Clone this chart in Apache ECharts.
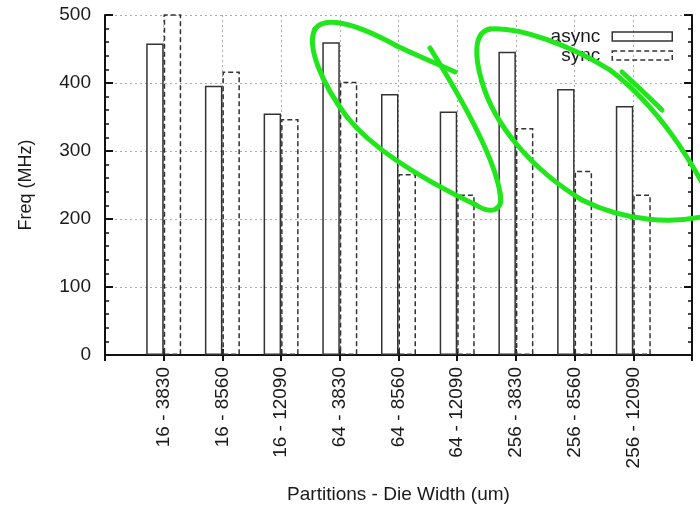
<!DOCTYPE html>
<html>
<head>
<meta charset="utf-8">
<script src="https://cdn.jsdelivr.net/npm/echarts@6/dist/echarts.min.js"></script>
<style>html,body{margin:0;padding:0;background:#fff;}#c{width:700px;height:514px;}</style>
</head>
<body>
<div id="c"></div>
<script>
const categories = ['16 - 3830', '16 - 8560', '16 - 12090', '64 - 3830', '64 - 8560', '64 - 12090', '256 - 3830', '256 - 8560', '256 - 12090'];
const asyncFreq = [458, 396, 355, 460, 384, 358, 446, 391, 366];
const syncFreq = [520, 417, 347, 402, 266, 236, 334, 271, 236];
const yMin = 0, yMax = 500, yStep = 100;

const axisCats = [''].concat(categories, ['']);
const pad = v => ['-'].concat(v, ['-']);
const FONT = '"Liberation Sans", Arial, Helvetica, sans-serif';
const lineCol = '#111';
const barCol = '#333';
const textCol = '#1a1a1a';
const green = '#22e61c';
const dash = [5, 3];

// hand-drawn green annotation strokes (start, cp1, cp2, end) in pixels
const scribbles = [
  [[430,48],[455,88],[494,155],[500,193]],
  [[500,193],[504,212],[490,214],[476,205]],
  [[476,205],[430,183],[375,152],[347,117]],
  [[347,117],[322,84],[306,46],[315,29]],
  [[315,29],[323,17],[350,20],[397,46]],
  [[397,46],[420,57],[440,65],[455,72]],
  [[714,205],[692,162],[660,108],[610,70]],
  [[610,70],[570,45],[520,27],[490,29]],
  [[490,29],[474,32],[474,55],[482,82]],
  [[482,82],[494,124],[530,168],[582,200]],
  [[582,200],[622,220],[672,226],[714,214]],
  [[622,72],[635,84],[649,97],[662,110]]
];
const scribbleGraphics = scribbles.map(s => ({
  type: 'bezierCurve', z: 100, silent: true,
  shape: {x1: s[0][0], y1: s[0][1], cpx1: s[1][0], cpy1: s[1][1], cpx2: s[2][0], cpy2: s[2][1], x2: s[3][0], y2: s[3][1]},
  style: {stroke: green, lineWidth: 5, fill: null, lineCap: 'round'}
}));

const chart = echarts.init(document.getElementById('c'), null, {renderer: 'canvas'});
chart.setOption({
  animation: false,
  backgroundColor: '#fff',
  textStyle: {fontFamily: FONT},
  grid: {left: 105, right: 8, top: 15, bottom: 159, containLabel: false},
  legend: {
    orient: 'vertical', right: 22, top: 22, align: 'right',
    itemWidth: 60, itemHeight: 9, itemGap: 0,
    icon: 'rect',
    textStyle: {fontFamily: FONT, fontSize: 19, lineHeight: 17, color: textCol, padding: [0, 7, 0, 0]},
    data: [
      {name: 'async', itemStyle: {color: 'rgba(255,255,255,0)', borderColor: barCol, borderWidth: 1.5}},
      {name: 'sync', itemStyle: {color: 'rgba(255,255,255,0)', borderColor: barCol, borderWidth: 1.5, borderType: dash}}
    ]
  },
  xAxis: [{
    type: 'category', data: axisCats, boundaryGap: false, position: 'bottom',
    axisLine: {lineStyle: {color: lineCol, width: 2}},
    axisTick: {inside: true, length: 6, interval: 0, lineStyle: {color: lineCol, width: 2}},
    axisLabel: {interval: 0, rotate: 90, margin: 12, fontSize: 19, color: textCol, fontFamily: FONT},
    splitLine: {show: true, interval: 0, lineStyle: {color: '#aaa', type: [2, 3], width: 1}},
    name: 'Partitions - Die Width (um)', nameLocation: 'middle', nameGap: 130,
    nameTextStyle: {fontSize: 19, color: textCol, fontFamily: FONT}
  }, {
    type: 'category', data: axisCats, boundaryGap: false, position: 'top',
    axisLine: {lineStyle: {color: lineCol, width: 2}},
    axisTick: {inside: true, length: 6, interval: 0, lineStyle: {color: lineCol, width: 2}},
    axisLabel: {show: false}, splitLine: {show: false}
  }],
  yAxis: [{
    type: 'value', min: yMin, max: yMax, interval: yStep, position: 'left',
    axisLine: {show: true, lineStyle: {color: lineCol, width: 2}},
    axisTick: {show: true, inside: true, length: 8, lineStyle: {color: lineCol, width: 2}},
    minorTick: {show: true, splitNumber: 5, length: 4, lineStyle: {color: lineCol, width: 1.5}},
    axisLabel: {margin: 14, fontSize: 19, color: textCol, fontFamily: FONT},
    splitLine: {show: true, lineStyle: {color: '#aaa', type: [2, 3], width: 1}},
    name: 'Freq (MHz)', nameLocation: 'middle', nameGap: 70,
    nameTextStyle: {fontSize: 18, color: textCol, fontFamily: FONT}
  }, {
    type: 'value', min: yMin, max: yMax, interval: yStep, position: 'right',
    axisLine: {show: true, lineStyle: {color: lineCol, width: 2}},
    axisTick: {show: true, inside: true, length: 8, lineStyle: {color: lineCol, width: 2}},
    minorTick: {show: true, splitNumber: 5, length: 4, lineStyle: {color: lineCol, width: 1.5}},
    axisLabel: {show: false}, splitLine: {show: false}
  }],
  series: [{
    name: 'async', type: 'bar', xAxisIndex: 0, yAxisIndex: 0,
    data: pad(asyncFreq), barWidth: 17.5, barGap: '0%',
    itemStyle: {color: 'rgba(255,255,255,0)', borderColor: barCol, borderWidth: 1.5}
  }, {
    name: 'sync', type: 'bar', xAxisIndex: 0, yAxisIndex: 0,
    data: pad(syncFreq), barWidth: 17.5, barGap: '0%',
    itemStyle: {color: 'rgba(255,255,255,0)', borderColor: barCol, borderWidth: 1.5, borderType: dash}
  }],
  graphic: scribbleGraphics
});
</script>
</body>
</html>
